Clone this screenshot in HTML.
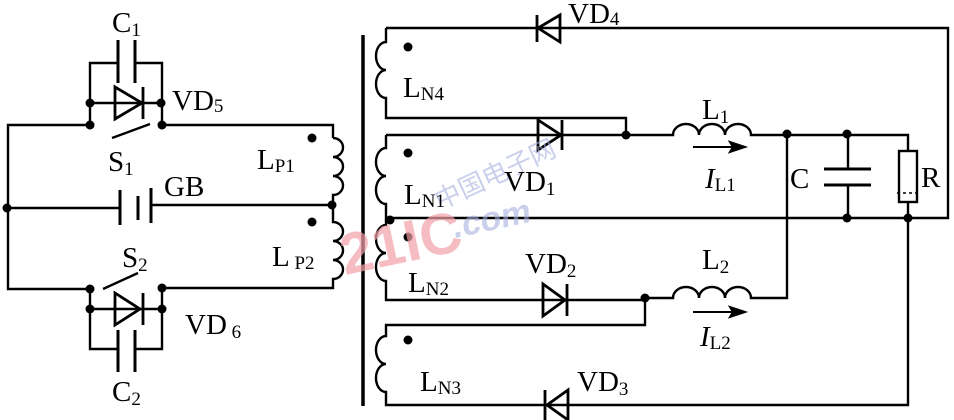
<!DOCTYPE html>
<html><head><meta charset="utf-8"><style>
html,body{margin:0;padding:0;background:#fff}
svg{display:block}
text{font-family:"Liberation Serif",serif;fill:#000}
</style></head><body>
<svg width="954" height="420" viewBox="0 0 954 420" xmlns="http://www.w3.org/2000/svg">
<g fill="none" stroke="#000" stroke-width="2.4">
<path d="M90,125 H8 V289 H90"/>
<path d="M162,125 H333 V138"/>
<path d="M333,138 a10,9.5 0 0 1 0,19 a10,9.5 0 0 1 0,19 a10,9.5 0 0 1 0,19 V205"/>
<path d="M333,205 V222 a10,9.5 0 0 1 0,19 a10,9.5 0 0 1 0,19 a10,9.5 0 0 1 0,19 V288 H162"/>
<path d="M112,138 L150,124"/>
<path d="M103,289 L138,273"/>
<path d="M90,103 V125 M162,103 V125 M90,289 V309 M162,288 V309"/>
<path d="M90,103 H162 M90,103 V63 H118 M135,63 H162 V103"/>
<path d="M90,309 H162 M90,309 V349 H118 M135,349 H162 V309"/>
<path d="M8,208 H119 M152,205 H333"/>
<path d="M386,28 H948 V218 H390"/>
<path d="M386,28 V42 a10,14 0 0 0 0,28 a10,14 0 0 0 0,28 V118 H626 V135"/>
<path d="M386,135 H626"/>
<path d="M386,135 V148 a10,14 0 0 0 0,28 a10,14 0 0 0 0,28 V225 a10,14 0 0 0 0,28 a10,14 0 0 0 0,28 V300 H645"/>
<path d="M626,135 H673 a13,11 0 0 1 26,0 a13,11 0 0 1 26,0 a13,11 0 0 1 26,0 H908 V151"/>
<path d="M908,202 V405 H386 V392 a10,14 0 0 1 0,-28 a10,14 0 0 1 0,-28 V325 H645 V298"/>
<path d="M645,298 H673 a13,11 0 0 1 26,0 a13,11 0 0 1 26,0 a13,11 0 0 1 26,0 H787 V135"/>
<path d="M848,135 V169 M848,185 V218"/>
<rect x="899" y="151" width="18" height="51"/>
</g>
<line x1="363" y1="35" x2="363" y2="406" stroke="#000" stroke-width="3.5"/>
<g stroke="#000" stroke-width="3">
<line x1="118" y1="40" x2="118" y2="83"/><line x1="135" y1="40" x2="135" y2="83"/>
<line x1="118" y1="330" x2="118" y2="372"/><line x1="135" y1="330" x2="135" y2="372"/>
<line x1="120" y1="190" x2="120" y2="225"/><line x1="138" y1="196" x2="138" y2="220"/><line x1="151" y1="188" x2="151" y2="223"/>
<line x1="824" y1="169" x2="871" y2="169"/><line x1="824" y1="185" x2="871" y2="185"/>
</g>
<g fill="none" stroke="#000" stroke-width="2.8">
<path d="M115,87 V119 L142,103 Z M143,87 V119"/>
<path d="M115,293 V325 L140,309 Z M143,293 V325"/>
<path d="M560,15 V42 L538,28 Z M537,15 V42"/>
<path d="M538,120 V150 L561,135 Z M562,120 V150"/>
<path d="M543,284 V316 L565,300 Z M567,284 V316"/>
<path d="M568,390 V420 L547,405 Z M545,390 V420"/>
<path d="M897,193 H919" stroke-dasharray="3,3" stroke-width="1.5"/>
</g>
<g stroke="#000" stroke-width="2" fill="#000">
<line x1="693" y1="147" x2="738" y2="147"/><path d="M745,147 L730,142 L733,147 L730,152 Z"/>
<line x1="693" y1="312" x2="738" y2="312"/><path d="M745,312 L730,307 L733,312 L730,317 Z"/>
</g>
<g fill="#000">
<circle cx="90" cy="103" r="4.5"/><circle cx="161" cy="103" r="4.5"/>
<circle cx="90" cy="125" r="4.5"/><circle cx="162" cy="125" r="4.5"/>
<circle cx="7" cy="208" r="4.5"/><circle cx="332" cy="205" r="4.5"/>
<circle cx="312" cy="138" r="4.5"/><circle cx="312" cy="222" r="4.5"/>
<circle cx="90" cy="289" r="4.5"/><circle cx="162" cy="288" r="4.5"/>
<circle cx="90" cy="309" r="4.5"/><circle cx="162" cy="309" r="4.5"/>
<circle cx="408" cy="47" r="4.5"/><circle cx="408" cy="153" r="4.5"/>
<circle cx="408" cy="237" r="4.5"/><circle cx="408" cy="340" r="4.5"/>
<circle cx="390" cy="220" r="4.5"/>
<circle cx="626" cy="135" r="4.5"/><circle cx="787" cy="134" r="4.5"/>
<circle cx="847" cy="134" r="4.5"/><circle cx="847" cy="218" r="4.5"/>
<circle cx="908" cy="218" r="4.5"/><circle cx="645" cy="298" r="4.5"/>
</g>
<text x="345" y="275" transform="rotate(-12 345 275)" style="font-family:'Liberation Sans',sans-serif;font-weight:bold;font-size:58px;fill:#f2a0a8;opacity:0.7">21IC</text>
<text x="440" y="210" transform="rotate(-25 440 210)" style="font-family:'Liberation Sans','Noto Sans CJK SC',sans-serif;font-size:26px;fill:#a8b0e0;opacity:0.6">中国电子网</text>
<text x="455" y="238" transform="rotate(-12 455 238)" style="font-family:'Liberation Sans',sans-serif;font-weight:bold;font-style:italic;font-size:34px;fill:#a8b0e0;opacity:0.6">.com</text>
<g font-size="29">
<text x="112" y="32">C<tspan font-size="19" dy="4">1</tspan></text>
<text x="172" y="110">VD<tspan font-size="19" dy="2">5</tspan></text>
<text x="108" y="171">S<tspan font-size="19" dy="4">1</tspan></text>
<text x="164" y="196">GB</text>
<text x="257" y="169">L<tspan font-size="19" dy="3">P1</tspan></text>
<text x="272" y="266">L<tspan font-size="19" dy="3"> P2</tspan></text>
<text x="122" y="267">S<tspan font-size="19" dy="4">2</tspan></text>
<text x="185" y="334">VD<tspan font-size="19" dy="4"> 6</tspan></text>
<text x="112" y="401">C<tspan font-size="19" dy="4">2</tspan></text>
<text x="403" y="97">L<tspan font-size="19" dy="3">N4</tspan></text>
<text x="404" y="204">L<tspan font-size="19" dy="3">N1</tspan></text>
<text x="408" y="292">L<tspan font-size="19" dy="3">N2</tspan></text>
<text x="420" y="391">L<tspan font-size="19" dy="3">N3</tspan></text>
<text x="568" y="23">VD<tspan font-size="19" dy="2">4</tspan></text>
<text x="504" y="191">VD<tspan font-size="19" dy="4">1</tspan></text>
<text x="525" y="273">VD<tspan font-size="19" dy="4">2</tspan></text>
<text x="577" y="391">VD<tspan font-size="19" dy="4">3</tspan></text>
<text x="702" y="119">L<tspan font-size="19" dy="4">1</tspan></text>
<text x="702" y="269">L<tspan font-size="19" dy="4">2</tspan></text>
<text x="705" y="188"><tspan font-style="italic">I</tspan><tspan font-size="19" dy="3">L1</tspan></text>
<text x="700" y="346"><tspan font-style="italic">I</tspan><tspan font-size="19" dy="3">L2</tspan></text>
<text x="790" y="188">C</text>
<text x="921" y="187">R</text>
</g>
</svg>
</body></html>
